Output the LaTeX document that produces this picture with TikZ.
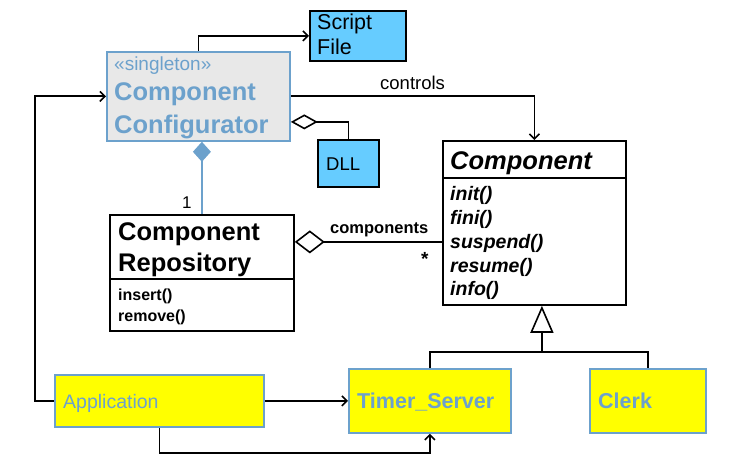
\documentclass[tikz,border=0pt]{standalone}
\usepackage{fontspec}
\setmainfont{Liberation Sans}
\usetikzlibrary{arrows.meta}
\definecolor{skyb}{RGB}{102,204,255}
\definecolor{cfgfill}{RGB}{232,232,232}
\definecolor{steel}{RGB}{108,161,204}
\definecolor{yel}{RGB}{255,255,0}
\tikzset{
  box/.style={draw=black, line width=1.8pt, inner sep=0pt, anchor=north west},
  bluebox/.style={box, fill=skyb},
  cfgbox/.style={box, draw=steel, fill=cfgfill},
  yelbox/.style={box, draw=steel, fill=yel},
  txt/.style={anchor=base west, inner sep=0pt},
  ln/.style={line width=1.8pt, black},
  arr/.style={ln, -{Straight Barb[length=5pt,width=10pt,line width=1.6pt]}},
  aggr/.style={ln, {Diamond[open,length=27pt,width=15pt,line width=1.6pt,fill=white]}-},
  aggrb/.style={ln, {Diamond[open,length=30pt,width=23pt,line width=1.6pt,fill=white]}-},
  comps/.style={line width=1.8pt, steel, -{Diamond[length=20pt,width=18pt]}},
  gen/.style={ln, -{Triangle[open,length=27pt,width=23pt,line width=1.6pt,fill=white]}},
}
\begin{document}
\begin{tikzpicture}[x=1pt,y=-1pt]
\useasboundingbox (0,0) rectangle (735,468);
% boxes
\node[bluebox, minimum width=96pt, minimum height=50pt] (sf) at (309,10) {};
\node[cfgbox, minimum width=183pt, minimum height=89pt] (cc) at (106,51) {};
\node[bluebox, minimum width=61pt, minimum height=47pt] (dll) at (317,139) {};
\node[box, fill=white, minimum width=183pt, minimum height=164pt] (comp) at (442,140) {};
\node[box, fill=white, minimum width=184pt, minimum height=116pt] (repo) at (109,214) {};
\node[yelbox, minimum width=209pt, minimum height=52pt] (app) at (54,374) {};
\node[yelbox, minimum width=162pt, minimum height=64pt] (timer) at (348,368) {};
\node[yelbox, minimum width=116pt, minimum height=64pt] (clerk) at (589,368) {};
% dividers
\draw[line width=1.8pt] (comp.west |- 0,178) coordinate (cd1) -- (cd1 -| comp.east);
\draw[line width=1.8pt] (repo.west |- 0,279) coordinate (rd1) -- (rd1 -| repo.east);
% texts
\node[txt, font=\fontsize{21.5}{24}\selectfont] (t1) at (317,30) {Script};
\node[txt, font=\fontsize{21.5}{24}\selectfont] (t2) at (317,55) {File};
\node[txt, font=\fontsize{19}{22}\selectfont, text=steel] (t3) at (114,71) {«singleton»};
\node[txt, font=\fontsize{25.5}{28}\selectfont\bfseries, text=steel] (t4) at (114,101) {Component};
\node[txt, font=\fontsize{25.5}{28}\selectfont\bfseries, text=steel] (t5) at (114,133) {Configurator};
\node[txt, font=\fontsize{18.5}{22}\selectfont] (t6) at (326,170) {DLL};
\node[txt, font=\fontsize{25.5}{28}\selectfont\bfseries\itshape] (t7) at (450,169) {Component};
\node[txt, font=\fontsize{19.5}{22}\selectfont\bfseries\itshape] (m1) at (450,200.5) {init()};
\node[txt, font=\fontsize{19.5}{22}\selectfont\bfseries\itshape] (m2) at (450,224.5) {fini()};
\node[txt, font=\fontsize{19.5}{22}\selectfont\bfseries\itshape] (m3) at (450,248) {suspend()};
\node[txt, font=\fontsize{19.5}{22}\selectfont\bfseries\itshape] (m4) at (450,272) {resume()};
\node[txt, font=\fontsize{19.5}{22}\selectfont\bfseries\itshape] (m5) at (450,295.5) {info()};
\node[txt, font=\fontsize{25.5}{28}\selectfont\bfseries] (t8) at (118,240) {Component};
\node[txt, font=\fontsize{25.5}{28}\selectfont\bfseries] (t9) at (118,271) {Repository};
\node[txt, font=\fontsize{16}{18}\selectfont\bfseries] (r1) at (118,300) {insert()};
\node[txt, font=\fontsize{16}{18}\selectfont\bfseries] (r2) at (118,321) {remove()};
\node[txt, font=\fontsize{19.5}{22}\selectfont, text=steel] (t10) at (63,408) {Application};
\node[txt, font=\fontsize{21.5}{24}\selectfont\bfseries, text=steel] (t11) at (357,408) {Timer\_Server};
\node[txt, font=\fontsize{21.5}{24}\selectfont\bfseries, text=steel] (t12) at (598,408) {Clerk};
\node[txt, font=\fontsize{18.5}{22}\selectfont] (lc) at (380,90) {controls};
\node[txt, font=\fontsize{16.5}{20}\selectfont\bfseries] (lcs) at (330,233) {components};
\node[txt, font=\fontsize{19}{22}\selectfont\bfseries] (lst) at (421,265) {*};
\node[txt, font=\fontsize{17}{20}\selectfont] (l1) at (182,208) {1};
% connectors
\draw[arr] (cc.north) |- (sf.west);
\draw[arr] (app.west) -- ++(-19,0) coordinate (al) |- (cc.west);
\draw[arr] (cc.east) -| (comp.north);
\draw[aggr] ([yshift=-25.5pt]cc.east) coordinate (dj) -- (dj -| dll.north) -- (dll.north);
\draw[comps] (repo.north) -- (repo.north |- cc.south);
\draw[aggrb] ([yshift=31pt]repo.east) coordinate (rj) -- (rj -| comp.west);
\draw[gen] (timer.north) |- ([xshift=7.5pt,yshift=-46pt]comp.south) coordinate (gj) -- ([xshift=7.5pt]comp.south);
\draw[ln] (gj) -| (clerk.north);
\draw[arr] (app.east) -- (timer.west);
\draw[arr] (app.south) -- ++(0,25) -| (timer.south);
\end{tikzpicture}
\end{document}
